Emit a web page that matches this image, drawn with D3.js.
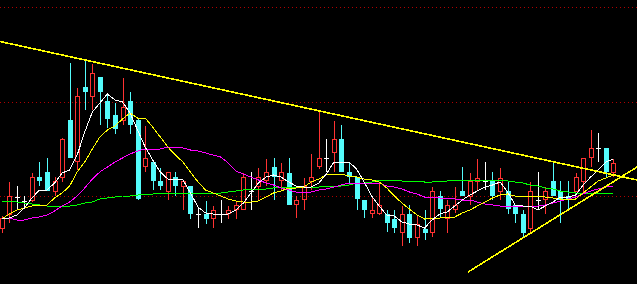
<!DOCTYPE html>
<html lang="en">
<head>
<meta charset="utf-8">
<title>K-line with moving averages</title>
<style>
  body { margin: 0; background: #000; overflow: hidden; }
  svg { display: block; background: #000; }
</style>
</head>
<body>
<script src="https://cdn.jsdelivr.net/npm/d3@7/dist/d3.min.js"></script>
<script>

  // chart size
  var w = 637;
  var h = 284;

  // OHLC for every bar (price units)
  var opens  = [10.71,10.85,11.03,10.99,10.99,11.23,11.28,11.08,11.22,11.80,
                11.38,12.13,12.03,12.23,11.99,11.85,11.79,11.99,11.80,11.33,
                11.38,11.19,11.08,11.23,11.13,11.14,10.86,10.86,10.81,10.86,
                10.86,10.90,10.90,11.09,11.13,11.19,11.33,11.19,11.27,10.95,
                11.00,11.18,11.33,11.42,11.47,11.61,11.28,11.23,11.00,10.86,
                10.86,10.86,10.81,10.67,10.86,10.62,10.71,10.67,11.04,10.81,
                10.90,11.09,11.03,11.18,11.19,11.19,11.08,11.09,10.95,10.86,
                10.71,11.00,11.00,11.19,11.09,11.04,11.08,11.18,11.42,11.52,
                11.52,11.27];
  var highs  = [10.84,11.18,11.14,11.04,11.27,11.38,11.42,11.23,11.62,12.37,
                12.12,12.40,12.36,12.23,12.05,11.97,12.22,12.08,11.81,11.74,
                11.40,11.32,11.28,11.28,11.19,11.14,10.93,10.99,10.94,11.00,
                10.94,10.98,11.27,11.28,11.32,11.41,11.42,11.37,11.42,11.04,
                11.22,11.46,11.88,11.61,11.79,11.75,11.37,11.23,11.00,11.03,
                11.18,10.90,10.90,10.94,10.95,10.85,10.90,11.13,11.09,11.00,
                11.13,11.33,11.27,11.41,11.38,11.28,11.32,11.18,10.95,10.90,
                11.18,11.28,11.13,11.37,11.19,11.19,11.27,11.42,11.70,11.67,
                11.52,11.41];
  var lows   = [10.67,10.77,10.90,10.92,10.98,11.14,11.09,11.04,11.18,11.42,
                11.30,11.90,11.90,11.75,11.72,11.66,11.75,11.66,11.00,11.28,
                11.10,11.10,11.00,11.04,10.90,10.81,10.72,10.76,10.72,10.77,
                10.81,10.81,10.90,10.90,11.00,11.14,11.00,11.10,10.95,10.82,
                10.90,11.10,11.31,11.28,11.28,11.28,11.17,10.90,10.82,10.82,
                10.85,10.68,10.67,10.54,10.57,10.54,10.60,10.63,10.82,10.67,
                10.87,11.04,10.95,11.10,11.10,11.00,11.00,10.86,10.77,10.62,
                10.67,10.90,10.86,11.04,10.77,10.90,11.08,11.08,11.33,11.38,
                11.23,11.23];
  var closes = [10.82,11.04,11.03,10.99,11.23,11.19,11.09,11.19,11.61,11.42,
                12.04,12.08,12.27,12.08,11.81,11.71,11.93,11.75,11.01,11.42,
                11.19,11.14,11.28,11.14,11.19,10.86,10.86,10.81,10.90,10.86,
                10.90,10.95,11.23,11.09,11.23,11.28,11.23,11.28,10.95,11.00,
                11.14,11.23,11.42,11.42,11.61,11.28,11.23,11.01,10.90,10.90,
                10.95,10.77,10.72,10.86,10.62,10.76,10.67,11.09,10.91,10.95,
                10.95,11.04,11.19,11.22,11.19,11.04,11.22,10.91,10.86,10.67,
                11.09,11.00,11.09,11.04,11.00,11.01,11.23,11.42,11.52,11.52,
                11.28,11.37];

  // moving averages as shown on the chart
  var ma5  = [10.82,10.82,10.85,10.92,11.02,11.10,11.10,11.17,11.27,11.30,
              11.45,11.68,11.88,11.97,12.06,12.00,11.98,11.87,11.70,11.53,
              11.40,11.28,11.21,11.21,11.20,11.07,10.93,10.87,10.86,10.86,
              10.86,10.90,10.97,11.07,11.17,11.23,11.25,11.23,11.18,11.14,
              11.13,11.13,11.17,11.26,11.38,11.38,11.38,11.31,11.18,11.04,
              10.94,10.85,10.84,10.78,10.76,10.75,10.72,10.80,10.86,10.88,
              10.94,11.00,11.05,11.09,11.13,11.15,11.18,11.08,10.95,10.94,
              10.94,10.90,10.94,10.98,11.03,11.03,11.05,11.15,11.23,11.30,
              11.38,11.41];
  var ma10 = [10.81,10.86,10.90,10.92,10.94,10.95,10.95,11.02,11.07,11.14,
              11.28,11.38,11.51,11.63,11.70,11.74,11.81,11.87,11.82,11.82,
              11.73,11.63,11.53,11.45,11.38,11.28,11.18,11.10,11.07,11.04,
              11.01,10.99,10.98,10.98,10.99,11.03,11.07,11.09,11.12,11.12,
              11.13,11.18,11.21,11.25,11.26,11.26,11.24,11.23,11.21,11.20,
              11.18,11.12,11.04,10.97,10.91,10.85,10.81,10.82,10.82,10.83,
              10.83,10.87,10.90,10.94,10.98,11.02,11.05,11.06,11.04,11.03,
              11.04,11.04,11.03,11.02,11.01,11.01,11.01,11.07,11.13,11.19,
              11.22,11.25];
  var ma20 = [10.82,10.82,10.80,10.80,10.82,10.83,10.85,10.89,10.94,10.98,
              11.04,11.12,11.21,11.28,11.33,11.38,11.42,11.46,11.49,11.51,
              11.51,11.51,11.53,11.53,11.52,11.50,11.49,11.47,11.45,11.43,
              11.37,11.29,11.26,11.23,11.20,11.17,11.15,11.12,11.10,11.08,
              11.08,11.08,11.10,11.11,11.13,11.15,11.17,11.17,11.17,11.17,
              11.17,11.14,11.13,11.11,11.08,11.06,11.03,11.03,11.02,11.02,
              11.01,11.00,11.00,10.98,10.96,10.95,10.94,10.94,10.94,10.94,
              10.94,10.94,10.95,10.97,10.99,11.01,11.03,11.06,11.09,11.11,
              11.13,11.14];
  var ma60 = [10.99,10.99,10.98,10.97,10.96,10.95,10.94,10.94,10.94,10.94,
              10.95,10.97,10.98,11.01,11.02,11.03,11.04,11.04,11.05,11.06,
              11.06,11.07,11.07,11.07,11.07,11.07,11.07,11.07,11.07,11.07,
              11.08,11.09,11.10,11.11,11.11,11.11,11.12,11.13,11.13,11.13,
              11.13,11.13,11.13,11.14,11.14,11.14,11.15,11.17,11.17,11.18,
              11.20,11.20,11.20,11.19,11.19,11.19,11.18,11.18,11.19,11.19,
              11.20,11.20,11.20,11.20,11.20,11.20,11.20,11.19,11.18,11.17,
              11.15,11.14,11.12,11.11,11.09,11.08,11.07,11.07,11.07,11.07,
              11.07,11.07];

  // hand drawn trend lines: bar index and price at both ends
  var trendDownIdx = [-0.23, 84.15];
  var trendDownPx  = [12.585, 11.20];
  var trendUpIdx   = [61.76, 84.15];
  var trendUpPx    = [10.28, 11.33];

  // price levels of the dotted grid
  var gridLevels = [12.933, 11.985, 11.04];

  var n = opens.length;

  // scales
  var x = d3.scaleLinear().domain([0, n - 1]).range([1.7, 613.3]);
  var y = d3.scaleLinear().domain([10.16, 13.00]).range([h, 0]);

  var upColor = "#ff3232";
  var downColor = "#54fcfc";
  var dojiColor = "#ffffff";

  var svg = d3.select("body").append("svg")
      .attr("width", w).attr("height", h).attr("id", "svg1");

  // dotted grid
  svg.append("g").attr("id", "grid")
    .selectAll("line")
    .data(gridLevels)
    .enter()
    .append("line")
      .attr("x1", 0).attr("x2", w)
      .attr("y1", function(d) { return Math.round(y(d)) + 0.5; })
      .attr("y2", function(d) { return Math.round(y(d)) + 0.5; })
      .attr("stroke", "#b00000")
      .attr("stroke-dasharray", "1,3")
      .attr("shape-rendering", "crispEdges");

  var bars = d3.range(n).map(function(i) {
    return {i: i, o: opens[i], h: highs[i], l: lows[i], c: closes[i]};
  });

  var gBars = svg.append("g").attr("id", "candles").attr("shape-rendering", "crispEdges");

  bars.forEach(function(d) {
    var cx = Math.round(x(d.i));
    var yH = Math.round(y(d.h)), yL = Math.round(y(d.l));
    var yO = Math.round(y(d.o)), yC = Math.round(y(d.c));
    var top = Math.min(yO, yC), bot = Math.max(yO, yC);
    var col = d.c > d.o ? upColor : (d.c < d.o ? downColor : dojiColor);

    // wicks above and below the body
    if (yH < top) {
      gBars.append("line").attr("x1", cx + 0.5).attr("x2", cx + 0.5)
        .attr("y1", yH).attr("y2", top).attr("stroke", col);
    }
    if (yL > bot) {
      gBars.append("line").attr("x1", cx + 0.5).attr("x2", cx + 0.5)
        .attr("y1", bot).attr("y2", yL).attr("stroke", col);
    }

    if (d.c > d.o) {
      // rising bar: hollow red
      gBars.append("rect")
        .attr("x", cx - 1.5).attr("y", top + 0.5)
        .attr("width", 4).attr("height", Math.max(bot - top - 1, 1))
        .attr("fill", "none").attr("stroke", col);
    } else if (d.c < d.o) {
      // falling bar: solid cyan
      gBars.append("rect")
        .attr("x", cx - 2).attr("y", top)
        .attr("width", 5).attr("height", Math.max(bot - top, 1))
        .attr("fill", col);
    } else {
      // doji cross
      gBars.append("line")
        .attr("x1", cx - 2).attr("x2", cx + 3)
        .attr("y1", yO + 0.5).attr("y2", yO + 0.5)
        .attr("stroke", col);
    }
  });

  // moving average lines
  var maLine = d3.line()
      .x(function(d, i) { return x(i); })
      .y(function(d) { return y(d); });

  var maSeries = [
    {name: "ma60", values: ma60, color: "#00ff00"},
    {name: "ma20", values: ma20, color: "#ff00ff"},
    {name: "ma10", values: ma10, color: "#ffff00"},
    {name: "ma5",  values: ma5,  color: "#ffffff"}
  ];

  svg.append("g").attr("id", "averages")
    .selectAll("path")
    .data(maSeries)
    .enter()
    .append("path")
      .attr("d", function(d) { return maLine(d.values); })
      .attr("fill", "none")
      .attr("stroke", function(d) { return d.color; })
      .attr("stroke-width", 1)
      .attr("shape-rendering", "crispEdges");

  // trend lines
  var trendLine = d3.line()
      .x(function(d) { return x(d[0]); })
      .y(function(d) { return y(d[1]); });

  var trends = [
    d3.zip(trendDownIdx, trendDownPx),
    d3.zip(trendUpIdx, trendUpPx)
  ];

  svg.append("g").attr("id", "trends")
    .selectAll("path")
    .data(trends)
    .enter()
    .append("path")
      .attr("d", trendLine)
      .attr("fill", "none")
      .attr("stroke", "#ffff00")
      .attr("stroke-width", 1.6)
      .attr("shape-rendering", "crispEdges");

</script>
</body>
</html>
